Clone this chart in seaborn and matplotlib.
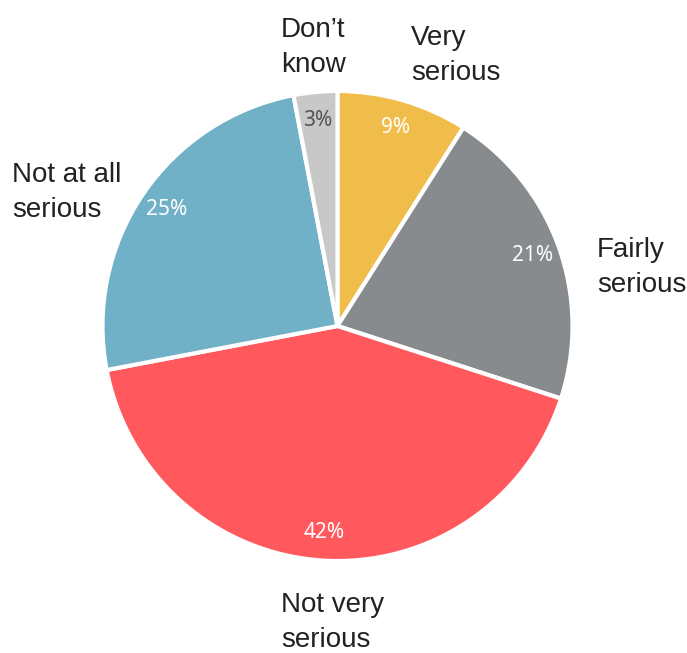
import matplotlib
matplotlib.use("Agg")
import matplotlib.pyplot as plt
import seaborn as sns

# data
categories = ["Very\nserious", "Fairly\nserious", "Not very\nserious", "Not at all\nserious", "Don\u2019t\nknow"]
shares = [9, 21, 42, 25, 3]
colors = ["#F0BD4B", "#888B8E", "#FF585D", "#71B1C8", "#C8C8C8"]
pct_colors = ["white", "white", "white", "white", "#555555"]

# label anchors (left edge, vertical centre) in axis units, radius = 1
label_pos = [(0.313, 1.153), (1.104, 0.247), (-0.240, -1.26), (-1.385, 0.570), (-0.240, 1.183)]

sns.set_theme(style="white")
plt.rcParams["font.family"] = ["Liberation Sans", "DejaVu Sans"]

fig = plt.figure(figsize=(6.87, 6.53), dpi=100)
ax = fig.add_axes([102.5 / 687, 92 / 653, 470 / 687, 470 / 653])

wedges, texts, autotexts = ax.pie(
    shares,
    labels=categories,
    colors=colors,
    startangle=90,
    counterclock=False,
    autopct="%d%%",
    pctdistance=0.88,
    wedgeprops=dict(edgecolor="white", linewidth=3),
    textprops=dict(fontsize=20, color="#222222"),
)

for t, (x, y) in zip(texts, label_pos):
    t.set_position((x, y))
    t.set_ha("left")
    t.set_va("center")
    t.set_linespacing(1.45)

for t, c in zip(autotexts, pct_colors):
    t.set_color(c)
    t.set_fontsize(15)
    t.set_fontfamily(["Noto Sans", "DejaVu Sans"])

ax.set_xlim(-1, 1)
ax.set_ylim(-1, 1)
ax.set_aspect("equal")
ax.axis("off")

fig.savefig("out.png", dpi=100)
